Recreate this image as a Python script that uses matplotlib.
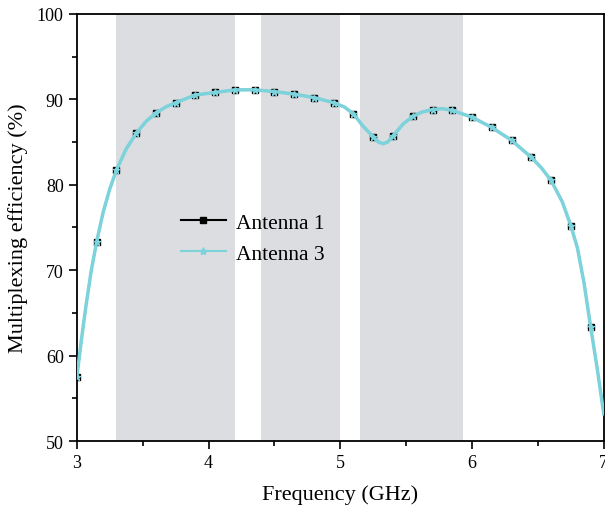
import matplotlib
matplotlib.use("Agg")
import matplotlib.pyplot as plt
from matplotlib.lines import Line2D
from matplotlib.ticker import MultipleLocator

plt.rcParams['font.family'] = ['Liberation Serif', 'DejaVu Serif']

# marker points (every 0.15 GHz)
freq = [3.0, 3.15, 3.3, 3.45, 3.6, 3.75, 3.9, 4.05, 4.2, 4.35, 4.5, 4.65, 4.8,
        4.95, 5.1, 5.25, 5.4, 5.55, 5.7, 5.85, 6.0, 6.15, 6.3, 6.45, 6.6, 6.75, 6.9]
ant1 = [57.5, 73.3, 81.7, 86.0, 88.4, 89.6, 90.5, 90.8, 91.1, 91.1, 90.9, 90.6, 90.2,
        89.6, 88.3, 85.6, 85.7, 88.0, 88.8, 88.7, 87.9, 86.7, 85.2, 83.2, 80.5, 75.2, 63.4]
ant3 = [57.5, 73.3, 81.7, 86.0, 88.4, 89.6, 90.5, 90.8, 91.1, 91.1, 90.9, 90.6, 90.2,
        89.6, 88.3, 85.6, 85.7, 88.0, 88.8, 88.7, 87.9, 86.7, 85.2, 83.2, 80.5, 75.2, 63.4]

# curve (denser where it bends)
line_freq = [3.0, 3.035, 3.07, 3.11, 3.15, 3.2, 3.25, 3.3, 3.375, 3.45, 3.525, 3.6,
             3.675, 3.75, 3.9, 4.05, 4.2, 4.35, 4.5, 4.65, 4.8, 4.95, 5.03, 5.1, 5.17,
             5.25, 5.29, 5.324, 5.36, 5.4, 5.476, 5.55, 5.62, 5.7, 5.775, 5.85, 6.0,
             6.15, 6.3, 6.45, 6.525, 6.6, 6.685, 6.75, 6.8, 6.85, 6.9, 6.95, 7.0]
line_ant1 = [57.5, 61.9, 65.9, 70.0, 73.3, 76.8, 79.5, 81.7, 84.2, 86.0, 87.4, 88.4,
             89.1, 89.6, 90.5, 90.8, 91.1, 91.1, 90.9, 90.6, 90.2, 89.6, 89.1, 88.3, 86.9,
             85.6, 85.0, 84.8, 85.0, 85.7, 87.1, 88.0, 88.5, 88.8, 88.9, 88.7, 87.9,
             86.7, 85.2, 83.2, 82.0, 80.5, 78.0, 75.2, 72.6, 68.5, 63.4, 58.5, 53.2]
line_ant3 = list(line_ant1)

bands = [(3.3, 4.2), (4.4, 5.0), (5.15, 5.93)]

cyan = '#7dd3dc'

fig = plt.figure(figsize=(6.05, 5.10), dpi=100)
ax = fig.add_axes([0.127, 0.133, 0.871, 0.838])

for lo, hi in bands:
    ax.axvspan(lo, hi, color='#dcdde0', lw=0, zorder=0)

ax.plot(line_freq, line_ant1, color='black', lw=1.5, zorder=2)
ax.plot(freq, ant1, ls='none', marker='s', ms=5, color='black', zorder=3)
ax.plot(line_freq, line_ant3, color=cyan, lw=2.5, zorder=4)
ax.plot(freq, ant3, ls='none', marker='*', ms=5, color=cyan, zorder=5)

ax.set_xlim(3, 7)
ax.set_ylim(50, 100)
ax.xaxis.set_major_locator(MultipleLocator(1))
ax.xaxis.set_minor_locator(MultipleLocator(0.5))
ax.yaxis.set_major_locator(MultipleLocator(10))
ax.yaxis.set_minor_locator(MultipleLocator(5))
ax.tick_params(which='both', direction='out', labelsize=13, width=1.2)
ax.tick_params(which='major', length=6)
ax.tick_params(which='minor', length=3.5)
for s in ['left', 'bottom', 'right', 'top']:
    ax.spines[s].set_linewidth(1.3)

ax.set_xlabel('Frequency (GHz)', fontsize=16, labelpad=9)
ax.set_ylabel('Multiplexing efficiency (%)', fontsize=16, labelpad=6)

handles = [Line2D([], [], color='black', lw=1.5, marker='s', ms=5),
           Line2D([], [], color=cyan, lw=1.5, marker='*', ms=6)]
ax.legend(handles, ['Antenna 1', 'Antenna 3'], loc='upper left',
          bbox_to_anchor=(0.16, 0.58), frameon=False, fontsize=15.5,
          handlelength=2.1, handletextpad=0.5, labelspacing=0.5)

fig.savefig('out.png', dpi=100)
